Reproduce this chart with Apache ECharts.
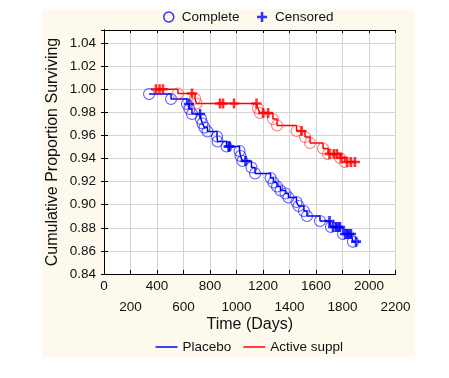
<!DOCTYPE html>
<html><head><meta charset="utf-8">
<script src="https://cdn.jsdelivr.net/npm/echarts@6/dist/echarts.min.js"></script>
<style>
html,body{margin:0;padding:0;background:#fff}
#bg{position:absolute;left:42px;top:9px;width:373px;height:348px;background:#fdf9ec}
#c{position:absolute;left:0;top:0;width:449px;height:378px}
</style>
</head><body><div id="bg"></div><div id="c"></div>
<script>
// Placebo: complete (event) observations
const placeboEventDays = [340, 506, 626, 645, 664, 732, 743, 758, 781, 853, 857, 925, 1023, 1030, 1045, 1113, 1140, 1257, 1279, 1306, 1332, 1370, 1392, 1453, 1468, 1509, 1532, 1630, 1713, 1804, 1879];
const placeboEventSurv = [0.9958, 0.9915, 0.9872, 0.9829, 0.9785, 0.9742, 0.9703, 0.9668, 0.9634, 0.9590, 0.9547, 0.9504, 0.9465, 0.9422, 0.9378, 0.9322, 0.9270, 0.9231, 0.9192, 0.9158, 0.9123, 0.9097, 0.9062, 0.9023, 0.8989, 0.8945, 0.8902, 0.8859, 0.8807, 0.8746, 0.8680];
// Placebo: censored observations
const placeboCensDays = [642, 725, 940, 948, 1068, 1702, 1728, 1751, 1766, 1781, 1819, 1834, 1849, 1864, 1902];
const placeboCensSurv = [0.9872, 0.9785, 0.9504, 0.9504, 0.9378, 0.8859, 0.8807, 0.8807, 0.8807, 0.8807, 0.8746, 0.8746, 0.8746, 0.8746, 0.8680];
// Active suppl: complete (event) observations
const activeEventDays = [558, 687, 698, 1162, 1177, 1275, 1306, 1453, 1517, 1555, 1653, 1691, 1781, 1819];
const activeEventSurv = [0.9963, 0.9919, 0.9876, 0.9833, 0.9794, 0.9742, 0.9686, 0.9638, 0.9586, 0.9534, 0.9487, 0.9439, 0.9404, 0.9370];
// Active suppl: censored observations
const activeCensDays = [392, 419, 445, 664, 875, 898, 981, 1151, 1200, 1238, 1491, 1702, 1736, 1758, 1792, 1834, 1864, 1894];
const activeCensSurv = [1.0, 1.0, 1.0, 0.9963, 0.9876, 0.9876, 0.9876, 0.9876, 0.9794, 0.9794, 0.9638, 0.9439, 0.9439, 0.9439, 0.9404, 0.9370, 0.9370, 0.9370];

const groupNames = ['Placebo', 'Active suppl'];
const markerNames = ['Complete', 'Censored'];

function pairs(xs, ys) { return xs.map((x, i) => [x, ys[i]]); }
function merged(a, b) { return a.concat(b).sort((p, q) => p[0] - q[0]); }

const pEv = pairs(placeboEventDays, placeboEventSurv);
const pCe = pairs(placeboCensDays, placeboCensSurv);
const aEv = pairs(activeEventDays, activeEventSurv);
const aCe = pairs(activeCensDays, activeCensSurv);

const BLUE = '#0000ff', RED = '#ff0000';
const FONT = '"Liberation Sans", Arial, Helvetica, sans-serif';
const PLUS = 'path://M3.7,0H6.3V3.7H10V6.3H6.3V10H3.7V6.3H0V3.7H3.7Z';
const LINEICON = 'path://M0,0H22V1.5H0Z';
const isOddStep = v => Math.round(v / 200) % 2 === 1;

const chart = echarts.init(document.getElementById('c'), null, {renderer: 'canvas'});
const axisLine = {show: true, lineStyle: {color: '#000', width: 1}};
const xLabelBase = {fontSize: 13.5, color: '#111', fontFamily: FONT, lineHeight: 16,
  showMinLabel: true, showMaxLabel: true, hideOverlap: false};
chart.setOption({
  backgroundColor: 'transparent',
  animation: false,
  textStyle: {fontFamily: FONT, color: '#111'},
  grid: {left: 104, top: 30, right: 53.5, bottom: 104, show: true, backgroundColor: '#fff', borderWidth: 0, outerBoundsMode: 'none'},
  legend: [
    {
      left: 158, top: 5, itemWidth: 10, itemHeight: 10, itemGap: 17.5, orient: 'horizontal',
      textStyle: {fontFamily: FONT, fontSize: 13.5, color: '#111', padding: [0, 0, 0, 3]},
      data: [
        {name: markerNames[0], icon: 'circle', itemStyle: {color: 'rgba(0,0,0,0)', borderColor: BLUE, borderWidth: 1.5}},
        {name: markerNames[1], icon: PLUS, itemStyle: {color: BLUE, borderWidth: 0}}
      ]
    },
    {
      left: 150.5, top: 335, itemWidth: 22, itemHeight: 10, itemGap: 12,
      textStyle: {fontFamily: FONT, fontSize: 13.5, color: '#111'},
      data: [
        {name: groupNames[0], icon: LINEICON, itemStyle: {color: BLUE}},
        {name: groupNames[1], icon: LINEICON, itemStyle: {color: RED}}
      ]
    }
  ],
  xAxis: [
    {
      type: 'value', min: 0, max: 2200, interval: 200, position: 'bottom',
      axisLine: axisLine,
      axisTick: {show: true, inside: true, length: 4, lineStyle: {color: '#000'}},
      splitLine: {show: true, lineStyle: {color: '#d4d4d4', width: 1}},
      axisLabel: Object.assign({}, xLabelBase, {margin: 4, formatter: v => (isOddStep(v) ? '' : '' + v)}),
      name: 'Time (Days)', nameLocation: 'middle', nameGap: 43, nameMoveOverlap: false,
      nameTextStyle: {fontSize: 16, color: '#111', fontFamily: FONT}
    },
    {
      type: 'value', min: 0, max: 2200, interval: 200, position: 'top',
      axisLine: axisLine,
      axisTick: {show: true, inside: true, length: 3, lineStyle: {color: '#000'}},
      axisLabel: {show: false}, splitLine: {show: false}
    },
    {
      type: 'value', min: 0, max: 2200, interval: 200, position: 'bottom', offset: 0,
      axisLine: {show: false}, axisTick: {show: false}, splitLine: {show: false},
      axisLabel: Object.assign({}, xLabelBase, {margin: 25, formatter: v => (isOddStep(v) ? '' + v : '')})
    }
  ],
  yAxis: [
    {
      type: 'value', min: 0.84, max: 1.0513, interval: 0.02, position: 'left',
      axisLine: axisLine,
      axisTick: {show: true, inside: true, length: 4, lineStyle: {color: '#000'}},
      splitLine: {show: true, lineStyle: {color: '#d4d4d4', width: 1}},
      axisLabel: {margin: 8, fontSize: 13.5, color: '#111', fontFamily: FONT, showMaxLabel: false,
        formatter: v => v.toFixed(2)},
      name: 'Cumulative Proportion Surviving', nameLocation: 'middle', nameGap: 43, nameRotate: 90,
      nameMoveOverlap: false,
      nameTextStyle: {fontSize: 16, color: '#111', fontFamily: FONT}
    },
    {
      type: 'value', min: 0.84, max: 1.0513, interval: 0.02, position: 'right',
      axisLine: axisLine,
      axisTick: {show: true, inside: true, length: 3, lineStyle: {color: '#000'}},
      axisLabel: {show: false}, splitLine: {show: false}
    }
  ],
  series: [
    {name: groupNames[0], type: 'line', step: 'end', data: merged(pEv, pCe), symbol: 'none', showSymbol: false,
      color: BLUE, lineStyle: {color: BLUE, width: 1.5}, z: 2},
    {name: groupNames[1], type: 'line', step: 'end', data: merged(aEv, aCe), symbol: 'none', showSymbol: false,
      color: RED, lineStyle: {color: RED, width: 1.5}, z: 2},
    {name: markerNames[0], type: 'scatter', data: pEv, symbol: 'circle', symbolSize: 11,
      itemStyle: {color: 'rgba(0,0,0,0)', borderColor: 'rgba(20,20,255,0.85)', borderWidth: 1.1}, z: 3},
    {name: markerNames[0], type: 'scatter', data: aEv, symbol: 'circle', symbolSize: 11,
      itemStyle: {color: 'rgba(0,0,0,0)', borderColor: 'rgba(255,40,40,0.75)', borderWidth: 1.1}, z: 3},
    {name: markerNames[1], type: 'scatter', data: pCe, symbol: PLUS, symbolSize: 10,
      itemStyle: {color: BLUE}, z: 4},
    {name: markerNames[1], type: 'scatter', data: aCe, symbol: PLUS, symbolSize: 10,
      itemStyle: {color: RED}, z: 4}
  ]
});
</script>
</body></html>
